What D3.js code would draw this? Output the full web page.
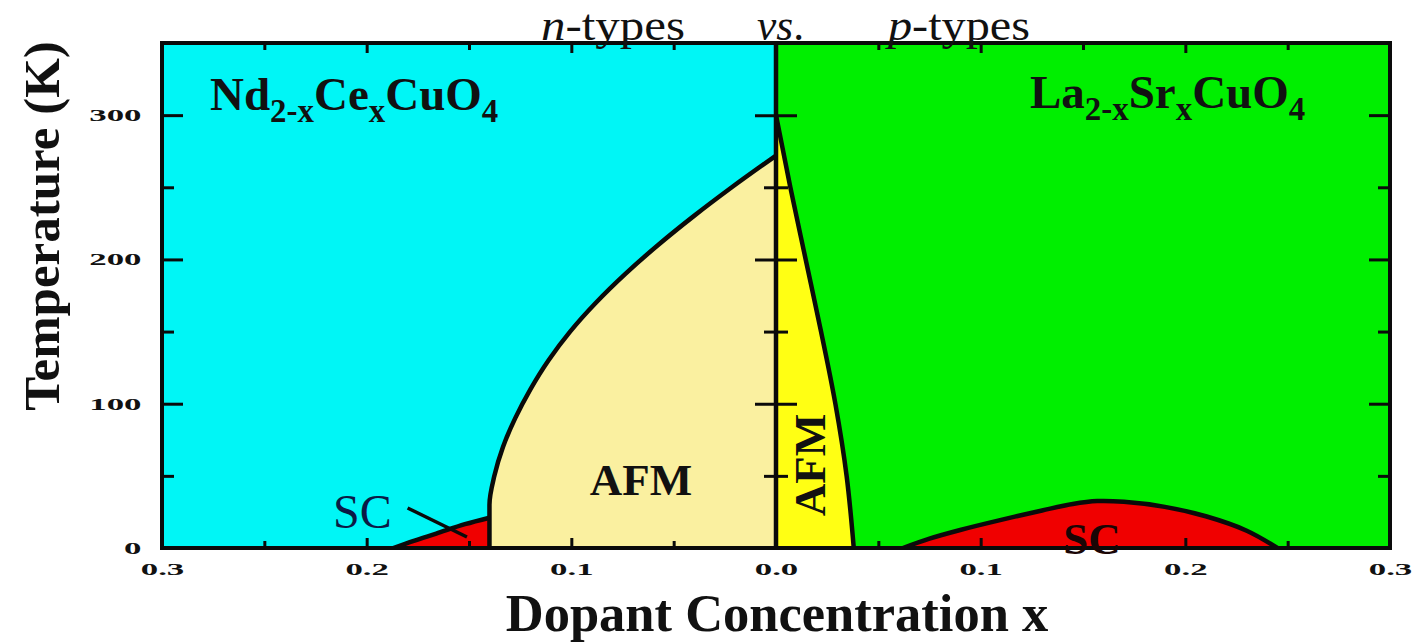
<!DOCTYPE html>
<html><head><meta charset="utf-8">
<script src="https://cdn.jsdelivr.net/npm/d3@7"></script>
<style>body{margin:0;background:#fff}svg{display:block}</style>
</head><body><svg id="c" width="1412" height="644"></svg>
<script>
// ---- data ----
const xMajorTicks = [-0.3, -0.2, -0.1, 0, 0.1, 0.2, 0.3];
const xMinorTicks = [-0.25, -0.15, -0.05, 0.05, 0.15, 0.25];
const yMajorTicks = [0, 100, 200, 300];
const yMinorTicks = [50, 150, 250];
// n-type side (Nd2-xCexCuO4), x = dopant concentration, T in K
const nAfmX = [0, 0.0216, 0.0402, 0.0576, 0.0736, 0.088, 0.1006, 0.1112, 0.12, 0.1274, 0.1334, 0.1376, 0.140, 0.140];
const nAfmT = [272, 250, 230, 210, 190, 170, 150, 130, 110, 90, 70, 50, 30, 0];
const nScX = [0.140, 0.152, 0.166, 0.177, 0.187];
const nScT = [21, 16.5, 10, 5, 0];
// p-type side (La2-xSrxCuO4)
const pAfmX = [0, 0.007, 0.0145, 0.022, 0.029, 0.0345, 0.038];
const pAfmT = [300, 250, 200, 150, 100, 50, 0];
const pScX = [0.062, 0.075, 0.09, 0.11, 0.13, 0.145, 0.157, 0.17, 0.19, 0.21, 0.23, 0.245];
const pScT = [0, 6.5, 12.5, 19.5, 26, 30.5, 32.5, 32, 28.5, 22, 12, 0];
const scPointerX = [0.18, 0.151];
const scPointerT = [27.7, 7.6];

// ---- layout ----
const svg = d3.select("#c");
const L = 162, R = 1390, T0 = 43, B = 548;
// signed axis: n-type to the left (negative), p-type to the right
const x = d3.scaleLinear().domain([-0.3, 0.3]).range([L, R]);
const y = d3.scaleLinear().domain([0, 350]).range([B, T0]);

const C = {cyan: "#00f6f6", green: "#00ef00", lightYellow: "#faf0a0", yellow: "#ffff14", red: "#f00000", ink: "#0a0a0a"};

svg.append("rect").attr("x", x(-0.3)).attr("y", y(350)).attr("width", x(0) - x(-0.3)).attr("height", y(0) - y(350)).attr("fill", C.cyan);
svg.append("rect").attr("x", x(0)).attr("y", y(350)).attr("width", x(0.3) - x(0)).attr("height", y(0) - y(350)).attr("fill", C.green);

const line = d3.line().curve(d3.curveCatmullRom.alpha(0.5));
const lineMY = d3.line().curve(d3.curveMonotoneY);
const pts = (xs, ts, sign) => xs.map((v, i) => [x(sign * v), y(ts[i])]);

// n AFM
const nAfmPts = pts(nAfmX, nAfmT, -1);
svg.append("path").attr("d", lineMY(nAfmPts) + `L${x(0)},${y(0)}L${x(0)},${y(nAfmT[0])}Z`).attr("fill", C.lightYellow);
// n SC
const nScPts = pts(nScX, nScT, -1);
svg.append("path").attr("d", line(nScPts) + `L${x(-nScX[0])},${y(0)}Z`).attr("fill", C.red);
// p AFM
const pAfmPts = pts(pAfmX, pAfmT, 1);
svg.append("path").attr("d", lineMY(pAfmPts) + `L${x(0)},${y(0)}Z`).attr("fill", C.yellow);
// p SC
const pScPts = pts(pScX, pScT, 1);
svg.append("path").attr("d", line(pScPts) + "Z").attr("fill", C.red);

// boundaries
[[nAfmPts, lineMY], [nScPts, line], [pAfmPts, lineMY], [pScPts, line]].forEach(([p, f]) => {
  svg.append("path").attr("d", f(p)).attr("fill", "none").attr("stroke", C.ink).attr("stroke-width", 4.5).attr("stroke-linejoin", "round");
});

// pointer for SC label
svg.append("path").attr("d", d3.line()(pts(scPointerX, scPointerT, -1))).attr("stroke", C.ink).attr("stroke-width", 3.5);

// center line
svg.append("line").attr("x1", x(0)).attr("x2", x(0)).attr("y1", y(350)).attr("y2", y(0)).attr("stroke", C.ink).attr("stroke-width", 4.5);

// ---- axes / ticks ----
const serif = "Liberation Serif, 'Times New Roman', serif";
const tickFont = g => g.selectAll("text").attr("font-family", serif).attr("font-weight", "bold").attr("font-size", 17).attr("fill", "#111");
function styleAxis(g) { g.select(".domain").remove(); g.selectAll("line").attr("stroke", C.ink).attr("stroke-width", 3); }

const bx = svg.append("g").attr("transform", `translate(0,${y(0)})`)
  .call(d3.axisBottom(x).tickValues(xMajorTicks).tickSize(-10).tickPadding(15).tickFormat(d => Math.abs(d).toFixed(1)));
styleAxis(bx); tickFont(bx); bx.selectAll("text").attr("transform", "scale(2.05,1)");
const bxm = svg.append("g").attr("transform", `translate(0,${y(0)})`).call(d3.axisBottom(x).tickValues(xMinorTicks).tickSize(-7).tickFormat(""));
styleAxis(bxm);
const tx = svg.append("g").attr("transform", `translate(0,${y(350)})`).call(d3.axisTop(x).tickValues(xMajorTicks).tickSize(-10).tickFormat(""));
styleAxis(tx);
const txm = svg.append("g").attr("transform", `translate(0,${y(350)})`).call(d3.axisTop(x).tickValues(xMinorTicks).tickSize(-7).tickFormat(""));
styleAxis(txm);

const ly = svg.append("g").attr("transform", `translate(${x(-0.3)},0)`)
  .call(d3.axisLeft(y).tickValues(yMajorTicks).tickSize(-21).tickPadding(10).tickFormat(d3.format("d")));
styleAxis(ly); tickFont(ly); ly.selectAll("text").attr("transform", "scale(2.05,1)");
const lym = svg.append("g").attr("transform", `translate(${x(-0.3)},0)`).call(d3.axisLeft(y).tickValues(yMinorTicks).tickSize(-12).tickFormat(""));
styleAxis(lym);
const ry = svg.append("g").attr("transform", `translate(${x(0.3)},0)`).call(d3.axisRight(y).tickValues(yMajorTicks).tickSize(-21).tickFormat(""));
styleAxis(ry);
const rym = svg.append("g").attr("transform", `translate(${x(0.3)},0)`).call(d3.axisRight(y).tickValues(yMinorTicks).tickSize(-12).tickFormat(""));
styleAxis(rym);
const cy = svg.append("g").attr("transform", `translate(${x(0) - 21},0)`).call(d3.axisLeft(y).tickValues(yMajorTicks.filter(d => d > 0)).tickSize(-42).tickFormat(""));
styleAxis(cy);
const cym = svg.append("g").attr("transform", `translate(${x(0) - 12},0)`).call(d3.axisLeft(y).tickValues(yMinorTicks).tickSize(-24).tickFormat(""));
styleAxis(cym);

// frame
svg.append("rect").attr("x", L).attr("y", T0).attr("width", R - L).attr("height", B - T0).attr("fill", "none").attr("stroke", C.ink).attr("stroke-width", 4);

// ---- text ----
function txt(xp, yp, s, size, opts = {}) {
  return svg.append("text").attr("x", xp).attr("y", yp).attr("font-family", serif).attr("font-size", size)
    .attr("font-weight", opts.weight || "bold").attr("text-anchor", opts.anchor || "start").attr("fill", opts.fill || "#111").text(s);
}

// axis titles
svg.append("text").attr("transform", "translate(59,226) rotate(-90)").attr("text-anchor", "middle")
  .attr("font-family", serif).attr("font-weight", "bold").attr("font-size", 51).attr("fill", "#111").text("Temperature (K)");
txt(777, 631, "Dopant Concentration x", 52.5, {anchor: "middle"});

// top labels
function mixed(xp, yp, parts, size, len) {
  const t = svg.append("text").attr("x", xp).attr("y", yp).attr("font-family", serif).attr("font-size", size).attr("fill", "#111")
    .attr("textLength", len).attr("lengthAdjust", "spacingAndGlyphs");
  parts.forEach(p => t.append("tspan").attr("font-style", p[1] ? "italic" : "normal").text(p[0]));
  return t;
}
mixed(541, 40, [["n", true], ["-types", false]], 44, 144);
mixed(757, 40, [["vs", true], [".", false]], 44, 47);
mixed(888, 40, [["p", true], ["-types", false]], 44, 142);

// compound labels with subscripts
function formula(xp, yp, parts, size) {
  const t = svg.append("text").attr("x", xp).attr("y", yp).attr("font-family", serif).attr("font-weight", "bold").attr("font-size", size).attr("fill", "#111");
  parts.forEach(p => {
    if (p[1]) t.append("tspan").attr("font-size", size * 0.7).attr("dy", 12).text(p[0]);
    else t.append("tspan").attr("dy", p[2] ? -12 : 0).text(p[0]);
  });
}
formula(210, 110, [["Nd"], ["2-x", 1], ["Ce", 0, 1], ["x", 1], ["CuO", 0, 1], ["4", 1]], 47);
formula(1030, 108, [["La"], ["2-x", 1], ["Sr", 0, 1], ["x", 1], ["CuO", 0, 1], ["4", 1]], 47);

// region labels
txt(641, 495, "AFM", 45, {anchor: "middle"});
svg.append("text").attr("transform", "translate(825,465) rotate(-90)").attr("text-anchor", "middle")
  .attr("font-family", serif).attr("font-weight", "bold").attr("font-size", 45).attr("fill", "#111").text("AFM");
txt(333, 528, "SC", 48, {weight: "normal", fill: "#0b1a45"});
txt(1092, 554, "SC", 45, {anchor: "middle", fill: "#1a0505"});
</script></body></html>
